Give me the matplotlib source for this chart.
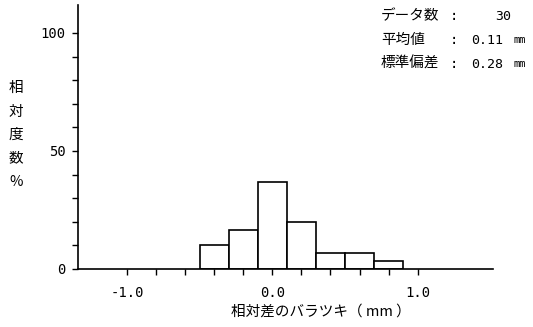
import matplotlib
matplotlib.use("Agg")
import matplotlib.pyplot as plt
from matplotlib.ticker import FixedLocator

plt.rcParams['font.family'] = ['Noto Sans CJK JP', 'DejaVu Sans']

# histogram of relative difference (mm), relative frequency (%)
bin_edges = [-0.5, -0.3, -0.1, 0.1, 0.3, 0.5, 0.7, 0.9]
counts = [3, 5, 11, 6, 2, 2, 1]
n_data = 30
mean_val = 0.11
std_val = 0.28

freq = [c / n_data * 100 for c in counts]
lefts = bin_edges[:-1]
widths = [b - a for a, b in zip(bin_edges[:-1], bin_edges[1:])]

fig = plt.figure(figsize=(5.33, 3.27), dpi=100)
ax = fig.add_axes([0.1463, 0.1774, 0.925 - 0.1463, 0.985 - 0.1774])

ax.bar(lefts, freq, width=widths, align='edge', color='white',
       edgecolor='black', linewidth=1.2)

ax.set_xlim(-1.34, 1.52)
ax.set_ylim(0, 111.9)
ax.spines['top'].set_visible(False)
ax.spines['right'].set_visible(False)
ax.spines['left'].set_linewidth(1.2)
ax.spines['bottom'].set_linewidth(1.2)

mono = 'DejaVu Sans Mono'
ax.set_xticks([-1.0, 0.0, 1.0])
ax.set_xticklabels(['-1.0', '0.0', '1.0'], family=mono)
ax.xaxis.set_minor_locator(FixedLocator([-0.8, -0.6, -0.4, -0.2, 0.2, 0.4, 0.6, 0.8]))
ax.set_yticks([0, 50, 100])
ax.set_yticklabels(['0', '50', '100'], family=mono)
ax.yaxis.set_minor_locator(FixedLocator([10, 20, 30, 40, 60, 70, 80, 90]))
ax.tick_params(which='major', length=4, width=1, labelsize=10)
ax.tick_params(axis='x', which='major', pad=8)
ax.tick_params(axis='y', which='major', pad=5)
ax.tick_params(which='minor', length=4, width=1)

# x label (sits right of axes centre in the original)
fig.text(321 / 533, 1 - 312 / 327, '相対差のバラツキ（ mm ）', fontsize=10.5,
         ha='center', va='center')

# vertical stacked y label
for i, ch in enumerate('相対度数%'):
    fig.text(16 / 533, 1 - (88 + i * 23.5) / 327, ch, fontsize=10.5,
             ha='center', va='center')

# statistics box
rows = [('データ数', '30', ''), ('平均値', '0.11', 'mm'), ('標準偏差', '0.28', 'mm')]
for i, (lab, val, unit) in enumerate(rows):
    y = 1 - (16 + i * 24) / 327
    fig.text(381 / 533, y, lab, fontsize=10.5, va='center')
    fig.text(450 / 533, y, ':', fontsize=10, va='center', family=mono)
    fig.text(503 / 533 if unit else 511 / 533, y, val, fontsize=9.5, va='center',
             ha='right', family=mono)
    if unit:
        fig.text(513 / 533, y, unit, fontsize=7.5, va='center', family=mono)

fig.savefig('out.png', dpi=100)
